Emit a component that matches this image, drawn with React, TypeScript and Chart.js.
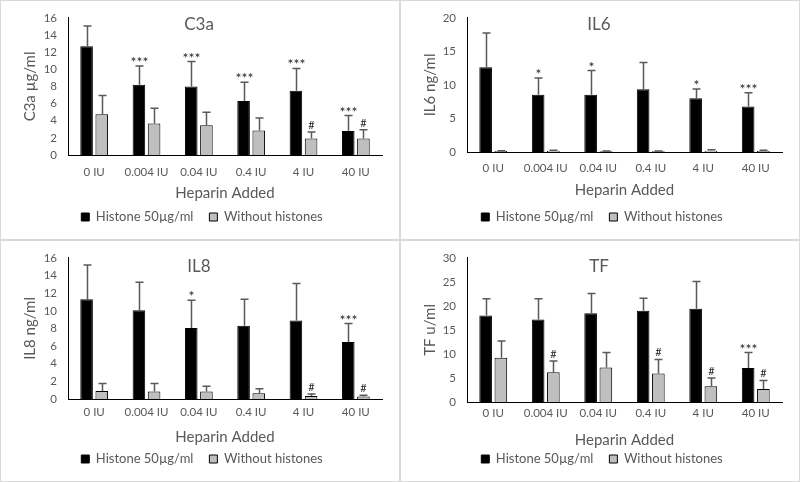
import React, { useEffect, useRef } from 'react';
import { Chart, registerables } from 'chart.js';

Chart.register(...registerables);

const FONT = 'Lato, "Open Sans", sans-serif';
const TEXT = '#595959';

const categories = ['0 IU', '0.004 IU', '0.04 IU', '0.4 IU', '4 IU', '40 IU'];
const seriesNames = ['Histone 50µg/ml', 'Without histones'];
const xAxisTitle = 'Heparin Added';

// C3a
const c3aHistone = [12.7, 8.2, 8.0, 6.3, 7.5, 2.8];
const c3aHistoneErr = [2.35, 2.2, 2.9, 2.2, 2.6, 1.8];
const c3aWithout = [4.75, 3.67, 3.48, 2.86, 1.94, 1.94];
const c3aWithoutErr = [2.2, 1.8, 1.5, 1.47, 0.73, 1.0];
const c3aSigHistone = ['', '***', '***', '***', '***', '***'];
const c3aSigWithout = ['', '', '', '', '#', '#'];

// IL6
const il6Histone = [12.65, 8.55, 8.55, 9.35, 8.0, 6.8];
const il6HistoneErr = [5.1, 2.5, 3.6, 4.0, 1.4, 2.05];
const il6Without = [0.15, 0.2, 0.1, 0.1, 0.2, 0.15];
const il6WithoutErr = [0.05, 0.05, 0.05, 0.05, 0.15, 0.1];
const il6SigHistone = ['', '*', '*', '', '*', '***'];
const il6SigWithout = ['', '', '', '', '', ''];

// IL8
const il8Histone = [11.3, 10.05, 8.05, 8.3, 8.9, 6.45];
const il8HistoneErr = [3.9, 3.2, 3.15, 3.0, 4.2, 2.1];
const il8Without = [0.9, 0.85, 0.85, 0.65, 0.35, 0.27];
const il8WithoutErr = [0.85, 0.9, 0.6, 0.5, 0.23, 0.15];
const il8SigHistone = ['', '', '*', '', '', '***'];
const il8SigWithout = ['', '', '', '', '#', '#'];

// TF
const tfHistone = [18.0, 17.15, 18.5, 19.0, 19.4, 7.1];
const tfHistoneErr = [3.5, 4.35, 4.1, 2.6, 5.7, 3.2];
const tfWithout = [9.2, 6.2, 7.2, 5.95, 3.3, 2.7];
const tfWithoutErr = [3.5, 2.35, 3.1, 2.9, 1.7, 1.8];
const tfSigHistone = ['', '', '', '', '', '***'];
const tfSigWithout = ['', '#', '', '#', '#', '#'];

type Geo = {
  left: number; right: number; top: number; bottom: number;
  labelY: number; xTitleY: number; legendY: number; titleY: number;
};

type PanelProps = {
  x: number; y: number; w: number; h: number;
  title: string; yTitle: string; max: number; step: number;
  histone: number[]; histoneErr: number[]; without: number[]; withoutErr: number[];
  sigHistone: string[]; sigWithout: string[];
  geo: Geo;
};

const errorBarPlugin = {
  id: 'errorBars',
  afterDatasetsDraw(chart: any) {
    const ctx = chart.ctx;
    const yScale = chart.scales.y;
    chart.data.datasets.forEach((ds: any, i: number) => {
      const meta = chart.getDatasetMeta(i);
      meta.data.forEach((el: any, j: number) => {
        const v = ds.data[j];
        const e = ds.errors ? ds.errors[j] : 0;
        const x = Math.round(el.x) + 0.5;
        const y0 = el.y;
        const y1 = yScale.getPixelForValue(v + e);
        ctx.save();
        ctx.strokeStyle = '#595959';
        ctx.lineWidth = 1.5;
        ctx.beginPath();
        ctx.moveTo(x, y0);
        ctx.lineTo(x, y1);
        ctx.moveTo(x - 4, y1);
        ctx.lineTo(x + 4, y1);
        ctx.stroke();
        const s = ds.sig ? ds.sig[j] : '';
        if (s) {
          ctx.fillStyle = '#262626';
          ctx.textAlign = 'center';
          ctx.textBaseline = 'alphabetic';
          if (s.indexOf('*') >= 0) {
            ctx.font = `14px ${FONT}`;
            ctx.fillText(s, x, y1 + 1);
          } else {
            ctx.font = `11px ${FONT}`;
            ctx.fillText(s, x, y1 - 3);
          }
        }
        ctx.restore();
      });
    });
  },
};

function Panel(p: PanelProps) {
  const ref = useRef<HTMLCanvasElement>(null);
  useEffect(() => {
    const g = p.geo;
    const padL = 22;
    const padR = p.w - g.right;
    const legendFont = 13;
    const legendPad = 16;
    const itemHeight = legendFont;
    const legendH = itemHeight + legendPad + 10;
    const pb = p.h - g.legendY - 10 - itemHeight / 2;
    const legendTop = p.h - pb - legendH;
    const hx = legendTop - g.bottom;
    const tickSize = 11.5;
    const xLabelLh = tickSize * 1.2;
    const xPad = g.labelY - g.bottom - xLabelLh / 2;
    const xTitleSize = 15;
    const xTitleLh = xTitleSize * 1.2;
    const tpb = legendTop - g.xTitleY - xTitleLh / 2;
    const yTitleSize = 15;
    const yTitleLh = yTitleSize * 1.2;
    const ytp = 30 - padL - yTitleLh / 2;

    const titlePlugin = {
      id: 'panelTitle',
      afterDraw(chart: any) {
        const ctx = chart.ctx;
        ctx.save();
        ctx.fillStyle = TEXT;
        ctx.font = `17px ${FONT}`;
        ctx.textAlign = 'center';
        ctx.textBaseline = 'middle';
        ctx.fillText(p.title, p.w / 2 - 1, g.titleY);
        ctx.restore();
      },
    };

    const chart = new Chart(ref.current as HTMLCanvasElement, {
      type: 'bar',
      data: {
        labels: categories,
        datasets: [
          {
            label: seriesNames[0],
            data: p.histone,
            errors: p.histoneErr,
            sig: p.sigHistone,
            backgroundColor: '#000000',
            borderColor: '#000000',
            borderWidth: 1,
            categoryPercentage: 0.58,
            barPercentage: 0.83,
          } as any,
          {
            label: seriesNames[1],
            data: p.without,
            errors: p.withoutErr,
            sig: p.sigWithout,
            backgroundColor: '#bfbfbf',
            borderColor: '#000000',
            borderWidth: 1,
            categoryPercentage: 0.58,
            barPercentage: 0.83,
          } as any,
        ],
      },
      options: {
        animation: false,
        responsive: false,
        devicePixelRatio: 1,
        layout: { padding: { top: g.top, right: padR, bottom: pb, left: padL } },
        plugins: {
          legend: {
            position: 'bottom',
            labels: {
              boxWidth: 8,
              boxHeight: 8,
              padding: legendPad,
              color: TEXT,
              font: { family: FONT, size: legendFont },
            },
          },
          tooltip: { enabled: false },
          title: { display: false },
        },
        scales: {
          x: {
            grid: { display: false, drawTicks: false },
            border: { display: true, color: '#000000', width: 1 },
            ticks: {
              color: TEXT,
              font: { family: FONT, size: tickSize },
              padding: xPad,
              maxRotation: 0,
              autoSkip: false,
            },
            title: {
              display: true,
              text: xAxisTitle,
              color: TEXT,
              font: { family: FONT, size: xTitleSize },
              padding: { top: 0, bottom: tpb },
            },
            afterFit: (s: any) => { s.height = hx; },
          },
          y: {
            min: 0,
            max: p.max,
            ticks: {
              stepSize: p.step,
              color: TEXT,
              font: { family: FONT, size: tickSize },
              padding: 11,
            },
            grid: { display: false, drawTicks: false },
            border: { display: true, color: '#000000', width: 1 },
            title: {
              display: true,
              text: p.yTitle,
              color: TEXT,
              font: { family: FONT, size: yTitleSize },
              padding: { top: ytp, bottom: 0 },
            },
            afterFit: (s: any) => { s.width = g.left - padL; },
          },
        },
      } as any,
      plugins: [errorBarPlugin, titlePlugin],
    });
    return () => chart.destroy();
  }, []);

  return (
    <div style={{ position: 'absolute', left: p.x, top: p.y, width: p.w, height: p.h, background: '#fff' }}>
      <canvas ref={ref} width={p.w} height={p.h} style={{ display: 'block', width: p.w, height: p.h }} />
      <div style={{ position: 'absolute', left: 0, top: 0, width: p.w, height: p.h, boxSizing: 'border-box', border: '1px solid #d9d9d9', pointerEvents: 'none' }} />
    </div>
  );
}

export default function App() {
  return (
    <div style={{ position: 'fixed', left: 0, top: 0, width: 800, height: 482, background: '#fff', overflow: 'hidden' }}>
      <Panel x={0} y={0} w={400} h={240} title="C3a" yTitle="C3a µg/ml" max={16} step={2}
        histone={c3aHistone} histoneErr={c3aHistoneErr} without={c3aWithout} withoutErr={c3aWithoutErr}
        sigHistone={c3aSigHistone} sigWithout={c3aSigWithout}
        geo={{ left: 68, right: 382, top: 17, bottom: 155, labelY: 172, xTitleY: 193, legendY: 217, titleY: 25 }} />
      <Panel x={400} y={0} w={400} h={240} title="IL6" yTitle="IL6 ng/ml" max={20} step={5}
        histone={il6Histone} histoneErr={il6HistoneErr} without={il6Without} withoutErr={il6WithoutErr}
        sigHistone={il6SigHistone} sigWithout={il6SigWithout}
        geo={{ left: 67, right: 382, top: 17, bottom: 152, labelY: 168, xTitleY: 190, legendY: 217, titleY: 25 }} />
      <Panel x={0} y={240} w={400} h={242} title="IL8" yTitle="IL8 ng/ml" max={16} step={2}
        histone={il8Histone} histoneErr={il8HistoneErr} without={il8Without} withoutErr={il8WithoutErr}
        sigHistone={il8SigHistone} sigWithout={il8SigWithout}
        geo={{ left: 68, right: 382, top: 17, bottom: 159, labelY: 172, xTitleY: 197, legendY: 219, titleY: 27 }} />
      <Panel x={400} y={240} w={400} h={242} title="TF" yTitle="TF u/ml" max={30} step={5}
        histone={tfHistone} histoneErr={tfHistoneErr} without={tfWithout} withoutErr={tfWithoutErr}
        sigHistone={tfSigHistone} sigWithout={tfSigWithout}
        geo={{ left: 67, right: 382, top: 17, bottom: 162, labelY: 173, xTitleY: 200, legendY: 219, titleY: 27 }} />
    </div>
  );
}
